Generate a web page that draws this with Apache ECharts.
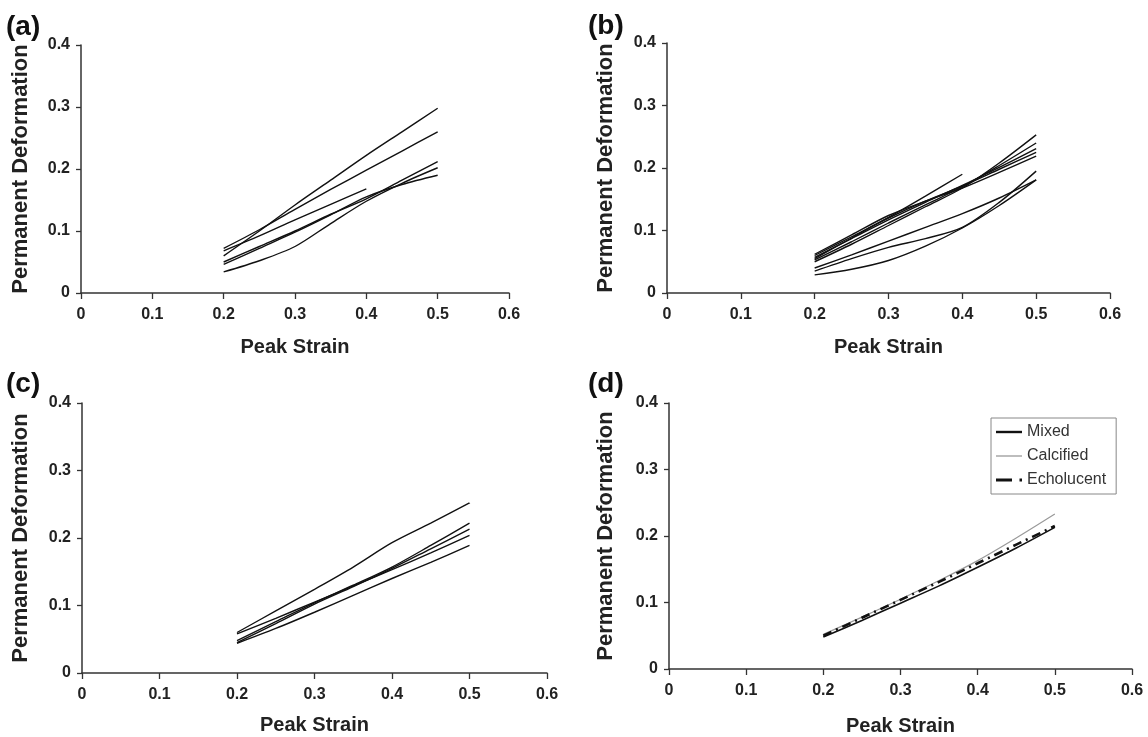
<!DOCTYPE html>
<html>
<head>
<meta charset="utf-8">
<script src="https://cdn.jsdelivr.net/npm/echarts@6/dist/echarts.min.js"></script>
<style>
html,body{margin:0;padding:0;background:#fff;}
#chart{width:1148px;height:737px;}
</style>
</head>
<body>
<div id="chart"></div>
<script>
// Peak strain sample positions
const strain = [0.2, 0.25, 0.3, 0.35, 0.4, 0.45, 0.5];

// Panel (a)
const panelA = [
  [0.060, 0.100, 0.142, 0.182, 0.222, 0.260, 0.298],
  [0.072, 0.102, 0.135, 0.167, 0.198, 0.229, 0.260],
  [0.068, 0.092, 0.118, 0.143, 0.168, null, null],
  [0.050, 0.075, 0.100, 0.127, 0.152, 0.182, 0.212],
  [0.046, 0.072, 0.098, 0.126, 0.155, 0.175, 0.190],
  [0.034, 0.052, 0.075, 0.112, 0.148, 0.177, 0.202]
];
// Panel (b)
const panelB = [
  [0.050, 0.078, 0.108, 0.138, 0.168, 0.208, 0.253],
  [0.053, 0.082, 0.112, 0.141, 0.170, 0.204, 0.240],
  [0.057, 0.087, 0.117, 0.145, 0.172, 0.201, 0.231],
  [0.060, 0.090, 0.120, 0.147, 0.171, 0.198, 0.225],
  [0.062, 0.093, 0.124, 0.147, 0.168, 0.193, 0.219],
  [0.055, 0.088, 0.121, 0.155, 0.190, null, null],
  [0.040, 0.061, 0.083, 0.105, 0.127, 0.152, 0.181],
  [0.035, 0.055, 0.073, 0.087, 0.105, 0.145, 0.195],
  [0.029, 0.038, 0.052, 0.075, 0.104, 0.140, 0.181]
];
// Panel (c)
const panelC = [
  [0.060, 0.092, 0.124, 0.157, 0.193, 0.222, 0.252],
  [0.058, 0.081, 0.105, 0.129, 0.153, 0.178, 0.204],
  [0.048, 0.076, 0.104, 0.130, 0.157, 0.189, 0.222],
  [0.045, 0.073, 0.102, 0.128, 0.155, 0.184, 0.213],
  [0.044, 0.066, 0.090, 0.115, 0.140, 0.164, 0.189]
];
// Panel (d)
const mixed      = [0.048, 0.073, 0.099, 0.125, 0.153, 0.182, 0.213];
const calcified  = [0.052, 0.078, 0.105, 0.133, 0.163, 0.197, 0.233];
const echolucent = [0.050, 0.077, 0.104, 0.131, 0.159, 0.187, 0.215];

const panelLabels = ['(a)', '(b)', '(c)', '(d)'];
const xTicks = [0, 0.1, 0.2, 0.3, 0.4, 0.5, 0.6];
const yTicks = [0, 0.1, 0.2, 0.3, 0.4];
const xTitle = 'Peak Strain';
const yTitle = 'Permanent Deformation';
const legendNames = ['Mixed', 'Calcified', 'Echolucent'];

const FONT = '"Liberation Sans", Arial, Helvetica, sans-serif';
const grids = [
  {left: 81,  top: 45,  width: 428, height: 248},
  {left: 667, top: 43,  width: 443, height: 250},
  {left: 82,  top: 403, width: 465, height: 270},
  {left: 669, top: 403, width: 463, height: 267}
];
const xNameGaps = [44, 44, 42, 47];
const yNameGaps = [49, 50, 50, 52];
const labelPos = [[6, 13], [588, 12], [6, 370], [588, 370]];

function pairs(ys) {
  const out = [];
  ys.forEach((y, i) => { if (y !== null) out.push([strain[i], y]); });
  return out;
}
const fmt = v => String(+v.toFixed(1));

const xAxes = grids.map((g, i) => ({
  gridIndex: i, type: 'value', min: xTicks[0], max: xTicks[xTicks.length - 1], interval: 0.1,
  name: xTitle, nameLocation: 'middle', nameGap: xNameGaps[i],
  nameTextStyle: {fontFamily: FONT, fontWeight: 'bold', fontSize: 20, color: '#222'},
  axisLine: {show: true, onZero: false, lineStyle: {color: '#333', width: 1.5}},
  axisTick: {show: true, length: 6, lineStyle: {color: '#333', width: 1.3}},
  axisLabel: {margin: 14, fontFamily: FONT, fontWeight: 'bold', fontSize: 16, color: '#222', formatter: fmt},
  splitLine: {show: false}
}));
const yAxes = grids.map((g, i) => ({
  gridIndex: i, type: 'value', min: yTicks[0], max: yTicks[yTicks.length - 1], interval: 0.1,
  name: yTitle, nameLocation: 'middle', nameGap: yNameGaps[i], nameRotate: 90,
  nameTextStyle: {fontFamily: FONT, fontWeight: 'bold', fontSize: 22, color: '#222'},
  axisLine: {show: true, onZero: false, lineStyle: {color: '#333', width: 1.5}},
  axisTick: {show: true, length: 5, lineStyle: {color: '#333', width: 1.3}},
  axisLabel: {margin: 11, fontFamily: FONT, fontWeight: 'bold', fontSize: 16, color: '#222', formatter: fmt},
  splitLine: {show: false}
}));

const series = [];
function addPanel(lines, idx) {
  lines.forEach(ys => series.push({
    type: 'line', xAxisIndex: idx, yAxisIndex: idx, data: pairs(ys),
    smooth: 0.3, symbol: 'none', showSymbol: false, silent: true,
    lineStyle: {color: '#111', width: 1.4}
  }));
}
addPanel(panelA, 0);
addPanel(panelB, 1);
addPanel(panelC, 2);
series.push({
  name: legendNames[1], type: 'line', xAxisIndex: 3, yAxisIndex: 3, data: pairs(calcified),
  smooth: 0.3, symbol: 'none', showSymbol: false, itemStyle: {color: '#9a9a9a'},
  lineStyle: {color: '#9a9a9a', width: 1.2}
});
series.push({
  name: legendNames[0], type: 'line', xAxisIndex: 3, yAxisIndex: 3, data: pairs(mixed),
  smooth: 0.3, symbol: 'none', showSymbol: false, itemStyle: {color: '#111'},
  lineStyle: {color: '#111', width: 1.6}
});
series.push({
  name: legendNames[2], type: 'line', xAxisIndex: 3, yAxisIndex: 3, data: pairs(echolucent),
  smooth: 0.3, symbol: 'none', showSymbol: false, itemStyle: {color: '#111'},
  lineStyle: {color: '#111', width: 2.6, type: [9, 5, 2, 5]}
});

const legendIcons = [
  'path://M0,0H26V2.4H0Z',
  'path://M0,0H26V1.3H0Z',
  'path://M0,0H16V3.2H0ZM23.5,0H26V3.2H23.5Z'
];

const option = {
  backgroundColor: '#fff',
  animation: false,
  title: panelLabels.map((t, i) => ({
    text: t, left: labelPos[i][0], top: labelPos[i][1], padding: 0,
    textStyle: {fontFamily: FONT, fontWeight: 'bold', fontSize: 28, color: '#111'}
  })),
  grid: grids.map(g => Object.assign({containLabel: false}, g)),
  xAxis: xAxes,
  yAxis: yAxes,
  legend: {
    data: legendNames.map((n, i) => ({name: n, icon: legendIcons[i]})),
    orient: 'vertical', left: 991, top: 418,
    padding: [6, 10, 6, 5], itemGap: 8, itemWidth: 26, itemHeight: 16,
    symbolKeepAspect: true,
    borderColor: '#888', borderWidth: 1, backgroundColor: '#fff',
    textStyle: {fontFamily: FONT, fontSize: 16, color: '#333'},
    selectedMode: false
  },
  series: series
};

const chart = echarts.init(document.getElementById('chart'), null, {renderer: 'canvas'});
chart.setOption(option);
</script>
</body>
</html>
